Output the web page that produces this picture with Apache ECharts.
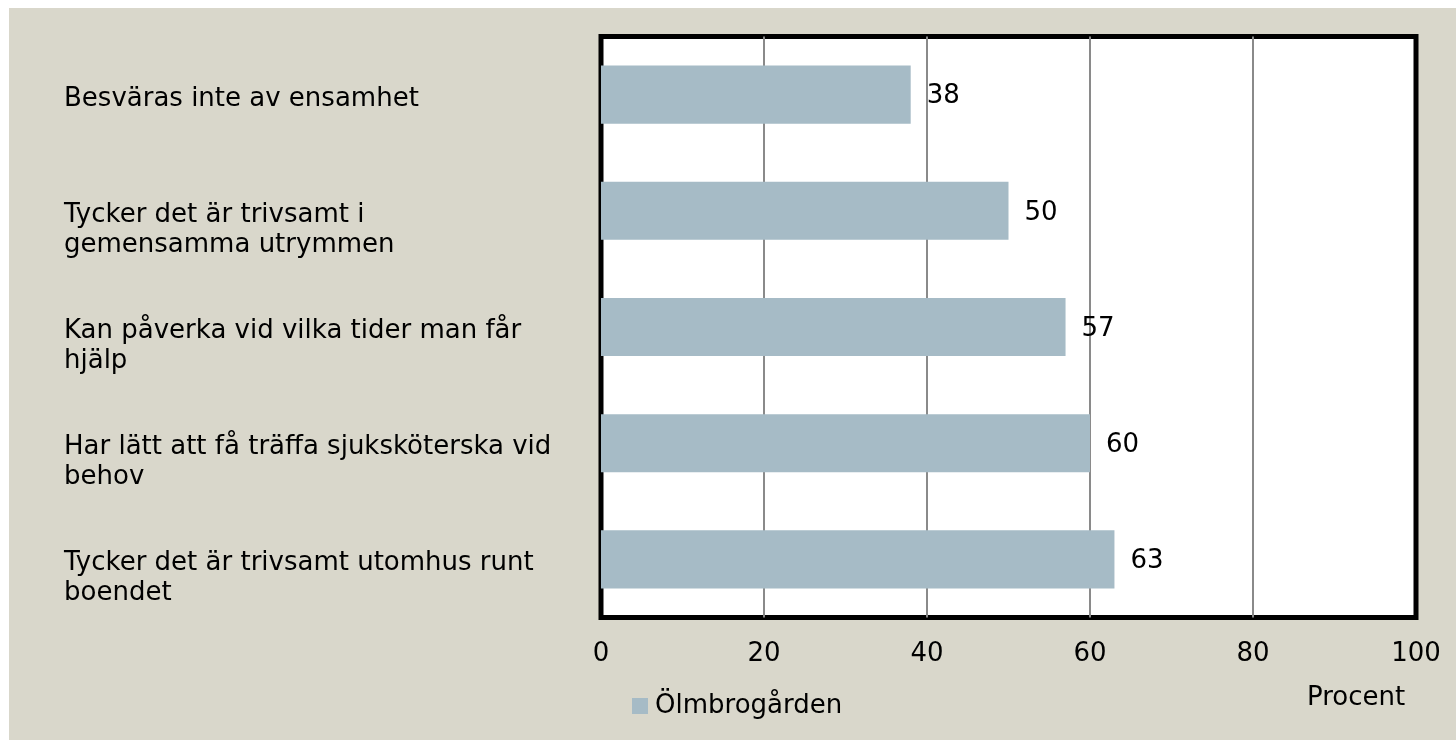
<!DOCTYPE html>
<html>
<head>
<meta charset="utf-8">
<script src="https://cdn.jsdelivr.net/npm/echarts@6/dist/echarts.min.js"></script>
<style>
  html, body { margin: 0; padding: 0; background: #fff; }
  #chart { position: absolute; left: 9px; top: 8px; width: 1447px; height: 732px; background: #d9d7cb; }
</style>
</head>
<body>
<div id="chart"></div>
<script>
// kategorier uppifrån och ned
const categories = [
  'Besväras inte av ensamhet',
  'Tycker det är trivsamt i\ngemensamma utrymmen',
  'Kan påverka vid vilka tider man får\nhjälp',
  'Har lätt att få träffa sjuksköterska vid\nbehov',
  'Tycker det är trivsamt utomhus runt\nboendet'
]
const seriesName = 'Ölmbrogården'
const values = [38, 50, 57, 60, 63]
const xTicks = [0, 20, 40, 60, 80, 100]
const axisTitle = 'Procent'

const FONT = 'DejaVu Sans'
const FS = 26
const chart = echarts.init(document.getElementById('chart'))

chart.setOption({
  animation: false,
  textStyle: { fontFamily: FONT },
  grid: {
    left: 592,
    right: 40,
    top: 28.5,
    bottom: 122.5,
    containLabel: false,
    outerBoundsMode: 'none',
    show: true,
    backgroundColor: '#fff',
    borderColor: '#000',
    borderWidth: 5
  },
  legend: {
    left: 618,
    top: 680,
    itemWidth: 16,
    itemHeight: 16,
    icon: 'rect',
    itemGap: 10,
    data: [seriesName],
    textStyle: { fontFamily: FONT, fontSize: FS, color: '#000', padding: [0, 0, 0, 2] }
  },
  xAxis: {
    type: 'value',
    min: xTicks[0],
    max: xTicks[xTicks.length - 1],
    interval: xTicks[1] - xTicks[0],
    axisLine: { show: false },
    axisTick: { show: false },
    splitLine: { showMinLine: false, showMaxLine: false, lineStyle: { color: '#8a8a8a', width: 2 } },
    axisLabel: { margin: 24, fontFamily: FONT, fontSize: FS, color: '#000' }
  },
  yAxis: {
    type: 'category',
    inverse: true,
    data: categories,
    axisLine: { show: false },
    axisTick: { show: false },
    axisLabel: {
      align: 'left',
      margin: 537,
      fontFamily: FONT,
      fontSize: FS,
      lineHeight: 30,
      color: '#000',
      // Excel toppjusterar etiketterna: en tom rad ovanför flyttar ned texten
      formatter: (v) => (v.indexOf('\n') < 0 ? '{s1|}\n' : '{s2|}\n') + v,
      rich: {
        s1: { height: 10, lineHeight: 10, fontSize: 1 },
        s2: { height: 38, lineHeight: 38, fontSize: 1 }
      }
    }
  },
  graphic: [
    {
      type: 'text',
      left: 1298,
      top: 677,
      style: { text: axisTitle, fontFamily: FONT, fontSize: FS, fill: '#000' }
    }
  ],
  series: [
    {
      name: seriesName,
      type: 'bar',
      data: values,
      barWidth: '50%',
      itemStyle: { color: '#a6bbc6' },
      label: {
        show: true,
        position: 'right',
        distance: 16,
        offset: [0, 2],
        fontFamily: FONT,
        fontSize: FS,
        color: '#000'
      }
    }
  ]
})
</script>
</body>
</html>
